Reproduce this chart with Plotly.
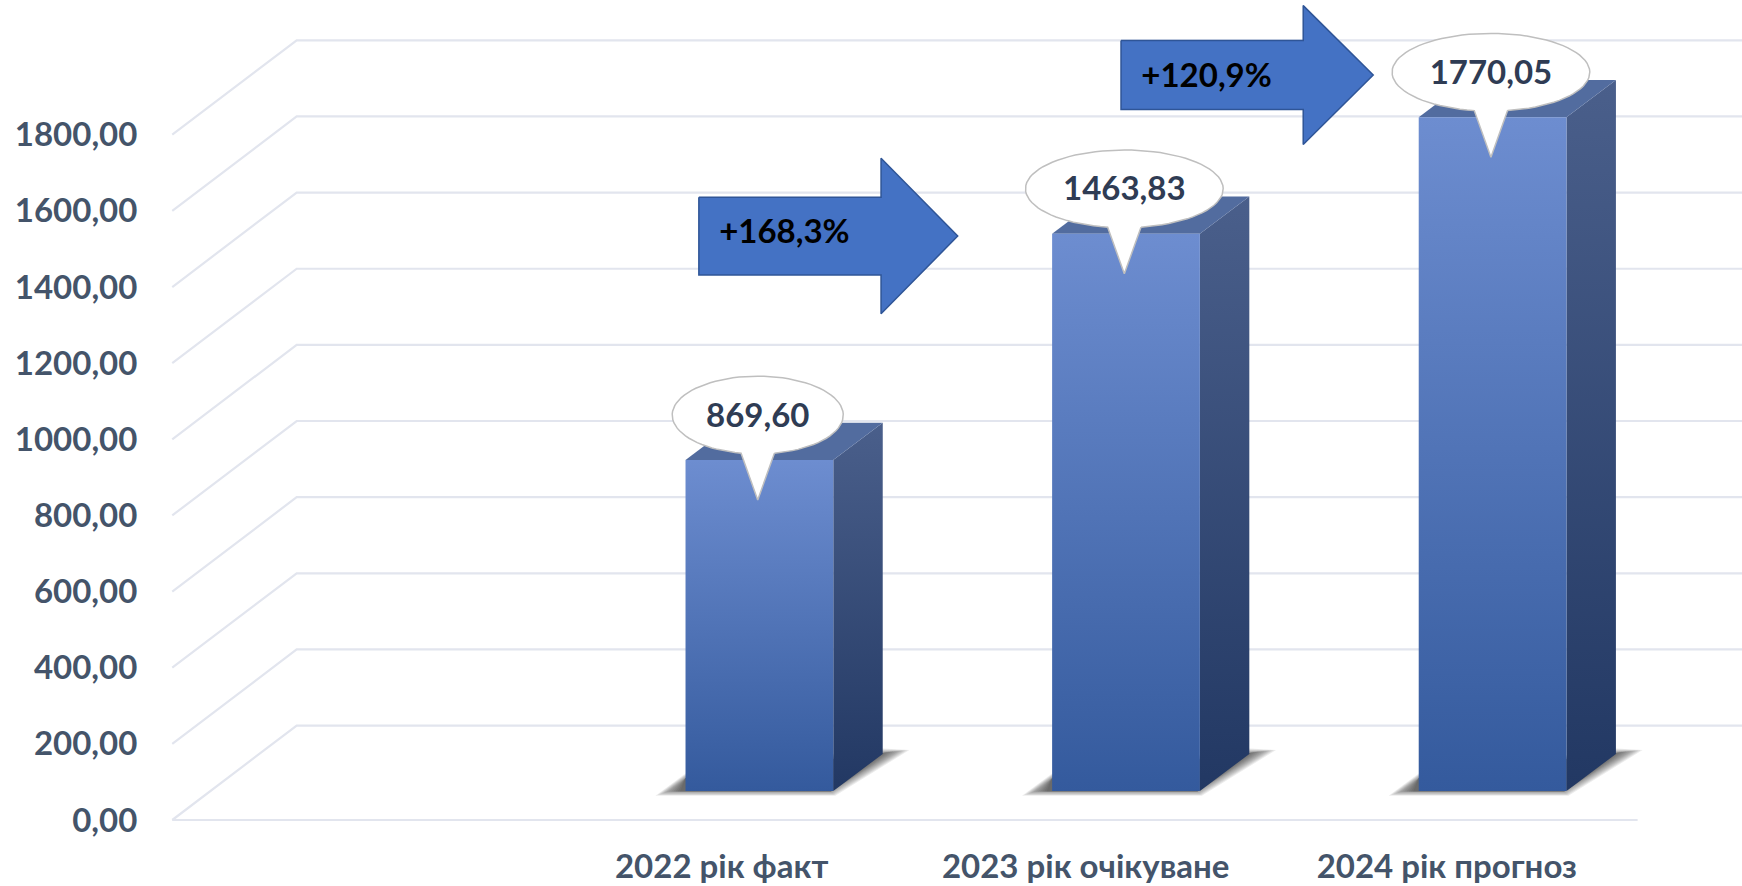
import math
import plotly.graph_objects as go

categories = ["2022 рік факт", "2023 рік очікуване", "2024 рік прогноз"]
values = [869.60, 1463.83, 1770.05]
growth_labels = ["+168,3%", "+120,9%"]
tick_values = [0, 200, 400, 600, 800, 1000, 1200, 1400, 1600, 1800]
tick_labels = ["0,00", "200,00", "400,00", "600,00", "800,00", "1000,00", "1200,00", "1400,00", "1600,00", "1800,00"]

W, H = 1742, 886
ML, MB = 149, 50
CAT = 366.6                 # px per category
UNIT = 0.3807               # px per value unit
X0 = 759.4                  # px of first bar centre
Y0 = 820.0                  # px of the axis zero
S = 1742 / 1568             # the measurements below are in the shrunk picture's px


def dx(p):  # horizontal length in category units
    return p * S / CAT


def dy(p):  # vertical length in value units
    return p * S / UNIT


x_range = [(ML - X0) / CAT, (W - X0) / CAT]
y_range = [(Y0 - (H - MB)) / UNIT, Y0 / UNIT]
FL = dx(155 - 683.5)        # left end of the floor's front edge
BK = dx(267 - 683.5)        # left end of the back wall
FR = dx(1474 - 683.5)       # right end of the floor's front edge
DEPTH = dy(85)
BASE = dy(26)
BW = dx(133) / 2
BDX = dx(44.5)
BDY = dy(33.5)

fig = go.Figure()


def poly(xs, ys, fill=None, line=None, width=0, grad=None):
    kw = dict(x=list(xs) + [xs[0]], y=list(ys) + [ys[0]], mode="lines", fill="toself",
              hoverinfo="skip", showlegend=False,
              line=dict(color=line or "rgba(0,0,0,0)", width=width))
    if grad:
        kw["fillgradient"] = dict(type="vertical", colorscale=[[0, grad[1]], [1, grad[0]]])
    else:
        kw["fillcolor"] = fill
    fig.add_trace(go.Scatter(**kw))


# grid
GRID = "#e2e5ee"
for v in tick_values:
    fig.add_trace(go.Scatter(x=[FL, BK, x_range[1]], y=[v, v + DEPTH, v + DEPTH], mode="lines",
                             line=dict(color=GRID, width=2.2), hoverinfo="skip", showlegend=False))
fig.add_trace(go.Scatter(x=[FL, FR], y=[0, 0], mode="lines", line=dict(color=GRID, width=2.2),
                         hoverinfo="skip", showlegend=False))

# bars
for i, v in enumerate(values):
    L, R = i - BW, i + BW
    B, T = BASE, BASE + v
    # soft floor shadow built from translucent layers that shrink toward the bar
    for g in (5, 3, 1, -1, -3, -5, -7, -9, -11, -13, -15, -17):
        e = max(g, -6) * 0.35
        poly([L - dx(22 + g), R + dx(e), R + BDX + dx(19 + g), R + BDX, L],
             [B - dy(2.5 + e), B - dy(2.5 + e), B + BDY + dy(3 + e * 0.3), B + BDY + dy(3 + e),
              B + dy(14 + e)],
             fill="rgba(30,30,30,0.085)")
    poly([R, R + BDX, R + BDX, R], [B, B + BDY, T + BDY, T], grad=("#4a5f8b", "#223863"))
    poly([L, R, R + BDX, L + BDX], [T, T, T + BDY, T + BDY], fill="#526c9f")
    poly([L, R, R, L], [B, B, T, T], grad=("#6d8dd0", "#345a9d"))

# growth arrows
arrow_left = [629, 1009]
arrow_tip_y = [212, 67]
arrow_body_half = [35, 31]
arrow_head_half = [70, 62.5]
for i, lab in enumerate(growth_labels):
    top = BASE + values[i + 1]
    cy = top + dy(210 - arrow_tip_y[i]) if i == 0 else top + dy(105 - arrow_tip_y[i])
    x0 = dx(arrow_left[i] - 683.5)
    xh = x0 + dx(164)
    xt = xh + dx(69 if i == 0 else 63)
    bh, hh = dy(arrow_body_half[i]), dy(arrow_head_half[i])
    poly([x0, xh, xh, xt, xh, xh, x0], [cy + bh, cy + bh, cy + hh, cy, cy - hh, cy - bh, cy - bh],
         fill="#4472c4", line="#2f5597", width=1.5)
    fig.add_trace(go.Scatter(x=[x0 + dx(77)], y=[cy + dy(1 if i == 0 else -3)], mode="text", text=[lab],
                             textposition="middle center", hoverinfo="skip", showlegend=False,
                             textfont=dict(family="Lato", size=33, color="#000000", weight="bold")))

# callouts
for i, v in enumerate(values):
    top = BASE + v
    cx, cy = i - dx(1.5), top + dy(40.5)
    rx, ry = dx(77 if i == 0 else 89), dy(35)
    tail = dx(15)
    start = math.asin(tail / rx)
    n = 80
    xs = [cx + tail]
    ys = [cy - ry * math.cos(start)]
    for k in range(1, n):
        a = start + (2 * math.pi - 2 * start) * k / n
        xs.append(cx + rx * math.sin(a))
        ys.append(cy - ry * math.cos(a))
    xs += [cx - tail, cx]
    ys += [cy - ry * math.cos(start), top - dy(36)]
    poly(xs, ys, fill="#ffffff", line="#bfbfbf", width=1.5)
    fig.add_trace(go.Scatter(x=[cx], y=[cy - dy(3)], mode="text", text=[f"{v:.2f}".replace(".", ",")],
                             textposition="middle center", hoverinfo="skip", showlegend=False,
                             textfont=dict(family="Lato", size=33, color="#2f3c54", weight="bold")))

fig.update_layout(
    template="none",
    width=W, height=H, margin=dict(l=ML, r=0, t=0, b=MB, pad=0), autosize=False,
    paper_bgcolor="#ffffff", plot_bgcolor="#ffffff", showlegend=False,
    font=dict(family="Lato", color="#44546a"),
    xaxis=dict(range=x_range, automargin=False, showgrid=False, zeroline=False, showline=False, ticks="outside", ticklen=1,
               tickcolor="rgba(0,0,0,0)", tickmode="array", tickvals=[-0.103, 0.89, 1.875], ticktext=categories,
               tickfont=dict(family="Lato", size=33, color="#44546a", weight="bold"), tickangle=0),
    yaxis=dict(range=y_range, automargin=False, showgrid=False, zeroline=False, showline=False, ticks="outside", ticklen=4,
               tickcolor="rgba(0,0,0,0)", tickmode="array", tickvals=tick_values, ticktext=tick_labels,
               tickfont=dict(family="Lato", size=33, color="#44546a", weight="bold")),
)
fig.write_html("out.html", config=dict(displayModeBar=False),
               post_script="document.body.style.margin='0';document.body.style.overflow='hidden';")
